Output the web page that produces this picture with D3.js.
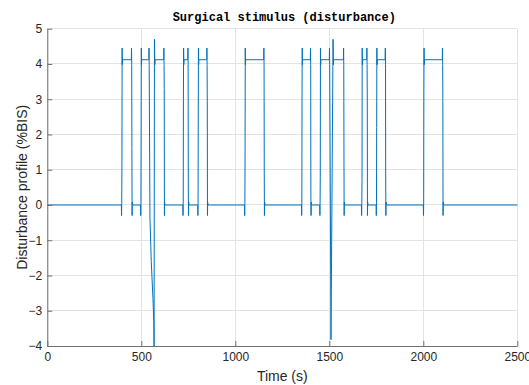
<!DOCTYPE html>
<html>
<head>
<meta charset="utf-8">
<script src="https://cdn.jsdelivr.net/npm/d3@7/dist/d3.min.js"></script>
<style>
  html, body { margin: 0; padding: 0; background: #ffffff; }
  svg { display: block; }
</style>
</head>
<body>
<svg id="chart" width="529" height="385"></svg>
<script>
// ---- Data ----
const chartTitle = "Surgical stimulus (disturbance)";
const xLabel = "Time (s)";
const yLabel = "Disturbance profile (%BIS)";
const xTicks = [0, 500, 1000, 1500, 2000, 2500];
const yTicks = [-4, -3, -2, -1, 0, 1, 2, 3, 4, 5];

const timeS = [
  0,
  394, 395, 396, 397, 398, 399, 400,
  447, 448, 449, 450, 451, 452, 453,
  496, 497, 498, 499, 500, 501, 502,
  540, 541, 542, 546, 553, 562, 567, 568, 570, 572, 573,
  619, 620, 621, 622, 623, 624, 625,
  721, 722, 723, 724, 725, 726, 727,
  747, 748, 749, 750, 751, 752, 753,
  800, 801, 802, 803, 804, 805, 806,
  848, 849, 850, 851, 852, 853, 854,
  1049, 1050, 1051, 1052, 1053, 1054, 1055,
  1151, 1152, 1153, 1154, 1155, 1156, 1157,
  1352, 1353, 1354, 1355, 1356, 1357, 1358,
  1399, 1400, 1401, 1402, 1403, 1404, 1405,
  1449, 1450, 1451, 1452, 1453, 1454, 1455,
  1500, 1501, 1502, 1504, 1509, 1520, 1522, 1523,
  1575, 1576, 1577, 1578, 1579, 1580, 1581,
  1671, 1672, 1673, 1674, 1675, 1676, 1677,
  1699, 1700, 1701, 1702, 1703, 1704, 1705,
  1749, 1750, 1751, 1752, 1753, 1754, 1755,
  1797, 1798, 1799, 1800, 1801, 1802, 1803,
  2000, 2001, 2002, 2003, 2004, 2005, 2006,
  2101, 2102, 2103, 2104, 2105, 2106, 2107,
  2500
];
const distBIS = [
  0,
  0, -0.3, 0.08, 1.2, 4.45, 3.98, 4.12,
  4.12, 4.45, 3.98, 1.6, -0.3, 0.08, 0,
  0, -0.3, 0.08, 2.0, 4.45, 3.98, 4.12,
  4.12, 4.45, 3.98, -0.35, -1.6, -2.65, -3.4, -4.0, 4.7, 3.98, 4.12,
  4.12, 4.45, 3.98, 3.3, -0.3, 0.08, 0,
  0, -0.3, 0.08, 3.0, 4.45, 3.98, 4.12,
  4.12, 4.45, 3.98, 0.65, -0.3, 0.08, 0,
  0, -0.3, 0.08, 2.5, 4.45, 3.98, 4.12,
  4.12, 4.45, 3.98, 2.75, -0.3, 0.08, 0,
  0, -0.3, 0.08, 1.3, 4.45, 3.98, 4.12,
  4.12, 4.45, 3.98, 0.9, -0.3, 0.08, 0,
  0, -0.3, 0.08, 3.25, 4.45, 3.98, 4.12,
  4.12, 4.45, 3.98, 0.25, -0.3, 0.08, 0,
  0, -0.3, 0.08, 0.8, 4.45, 3.98, 4.12,
  4.12, 4.45, 3.98, 1.9, -3.82, 4.7, 3.98, 4.12,
  4.12, 4.45, 3.98, 1.4, -0.3, 0.08, 0,
  0, -0.3, 0.08, 0.7, 4.45, 3.98, 4.12,
  4.12, 4.45, 3.98, 3.0, -0.3, 0.08, 0,
  0, -0.3, 0.08, 2.2, 4.45, 3.98, 4.12,
  4.12, 4.45, 3.98, 0.9, -0.3, 0.08, 0,
  0, -0.3, 0.08, 3.25, 4.45, 3.98, 4.12,
  4.12, 4.45, 3.98, 3.0, -0.3, 0.08, 0,
  0
];

// ---- Layout ----
const plot = { left: 47.3, right: 517.3, top: 28.7, bottom: 346 };
const svg = d3.select("#chart");

const x = d3.scaleLinear().domain([0, 2500]).range([plot.left, plot.right]);
const y = d3.scaleLinear().domain([-4, 5]).range([plot.bottom, plot.top]);

// Grid
const grid = svg.append("g");
grid.selectAll("line.gx").data(xTicks).enter().append("line")
  .attr("x1", d => x(d)).attr("x2", d => x(d))
  .attr("y1", plot.top).attr("y2", plot.bottom)
  .attr("stroke", "#e3e3e3").attr("stroke-width", 1).attr("shape-rendering", "crispEdges");
grid.selectAll("line.gy").data(yTicks).enter().append("line")
  .attr("x1", plot.left).attr("x2", plot.right)
  .attr("y1", d => y(d)).attr("y2", d => y(d))
  .attr("stroke", "#e3e3e3").attr("stroke-width", 1).attr("shape-rendering", "crispEdges");

// Data line
const pts = timeS.map((t, i) => [t, distBIS[i]]);
svg.append("path")
  .datum(pts)
  .attr("fill", "none")
  .attr("stroke", "#0072BD")
  .attr("stroke-width", 1)
  .attr("stroke-linejoin", "miter")
  .attr("d", d3.line().x(d => x(d[0])).y(d => y(d[1])));

// Axes
const axisColor = "#707070";
const textColor = "#262626";
const tickFont = "'Liberation Sans', Arial, sans-serif";

const gx = svg.append("g").attr("transform", `translate(0,${plot.bottom})`)
  .call(d3.axisBottom(x).tickValues(xTicks).tickFormat(d3.format("d"))
    .tickSizeInner(-5).tickSizeOuter(0).tickPadding(6));
const gy = svg.append("g").attr("transform", `translate(${plot.left},0)`)
  .call(d3.axisLeft(y).tickValues(yTicks).tickFormat(d3.format("d"))
    .tickSizeInner(-5).tickSizeOuter(0).tickPadding(5));

[gx, gy].forEach(g => {
  g.select(".domain").attr("stroke", axisColor).attr("stroke-width", 1);
  g.selectAll(".tick line").attr("stroke", axisColor);
  g.selectAll(".tick text").attr("fill", textColor)
    .style("font-family", tickFont).style("font-size", "12px");
});

// Labels
svg.append("text")
  .attr("x", (plot.left + plot.right) / 2).attr("y", 381)
  .attr("text-anchor", "middle")
  .attr("fill", textColor)
  .style("font-family", tickFont).style("font-size", "14px")
  .text(xLabel);

svg.append("text")
  .attr("transform", `translate(27,${(plot.top + plot.bottom) / 2}) rotate(-90)`)
  .attr("text-anchor", "middle")
  .attr("fill", textColor)
  .style("font-family", tickFont).style("font-size", "14px")
  .text(yLabel);

svg.append("text")
  .attr("x", (plot.left + plot.right) / 2 + 2).attr("y", 21)
  .attr("text-anchor", "middle")
  .attr("fill", "#000000")
  .style("font-family", "'Liberation Mono', 'DejaVu Sans Mono', monospace")
  .style("font-weight", "bold")
  .style("font-size", "12px")
  .text(chartTitle);
</script>
</body>
</html>
